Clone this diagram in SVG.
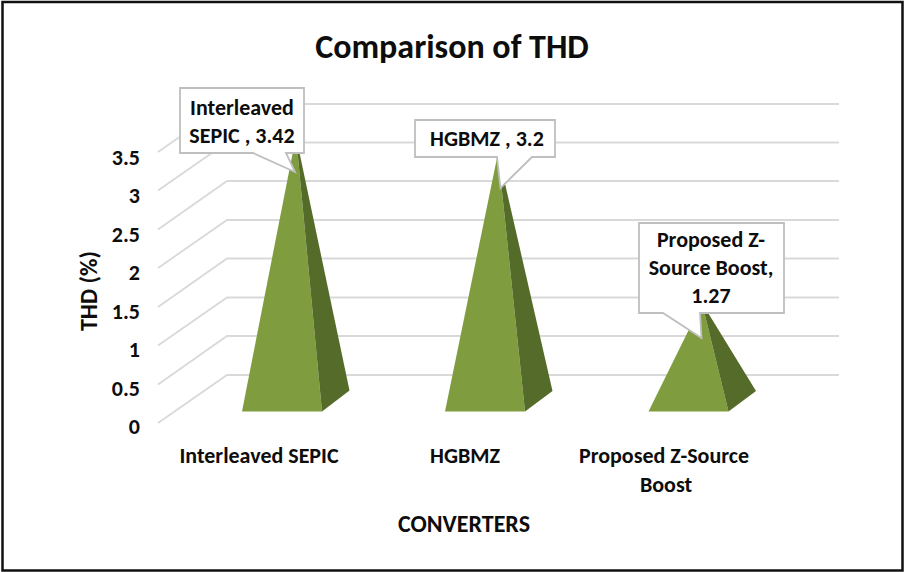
<svg xmlns="http://www.w3.org/2000/svg" width="904" height="572" viewBox="0 0 904 572">
  <style>
    text { font-family: Carlito, Lato, "Liberation Sans", sans-serif; font-weight: bold; fill: #0d0d0d; }
    .title { font-size: 34px; text-anchor: middle; }
    .tick { font-size: 22px; text-anchor: end; }
    .cat { font-size: 22px; text-anchor: middle; }
    .axis { font-size: 24px; text-anchor: middle; }
    .lbl { font-size: 22px; text-anchor: middle; }
    .grid { stroke: #d9d9d9; stroke-width: 1.8; fill: none; }
    .front { fill: #7f9d3f; }
    .side { fill: #546b29; }
    .callout { fill: #ffffff; stroke: #bfbfbf; stroke-width: 1.8; }
  </style>

  <!-- chart frame -->
  <rect x="2.5" y="2" width="900" height="568.5" fill="#ffffff" stroke="#111111" stroke-width="2.5"/>

  <text class="title" x="452" y="58">Comparison of THD</text>

  <!-- back wall and floor gridlines (value 0 to 3.5 in steps of 0.5) -->
  <g id="gridlines">
    <polyline class="grid" points="158,423 227,375 839,375"/>
    <polyline class="grid" points="158,384.5 227,336 839,336"/>
    <polyline class="grid" points="158,345.5 227,297.5 839,297.5"/>
    <polyline class="grid" points="158,307 227,258.5 839,258.5"/>
    <polyline class="grid" points="158,268 227,220 839,220"/>
    <polyline class="grid" points="158,229.5 227,181 839,181"/>
    <polyline class="grid" points="158,190.5 227,142.5 839,142.5"/>
    <polyline class="grid" points="158,152 227,104 839,104"/>
  </g>

  <!-- value axis -->
  <g id="value-axis">
    <text class="tick" x="140" y="434">0</text>
    <text class="tick" x="140" y="395.5">0.5</text>
    <text class="tick" x="140" y="357">1</text>
    <text class="tick" x="140" y="318.5">1.5</text>
    <text class="tick" x="140" y="280">2</text>
    <text class="tick" x="140" y="241.5">2.5</text>
    <text class="tick" x="140" y="203">3</text>
    <text class="tick" x="140" y="164.5">3.5</text>
    <text class="axis" transform="translate(97,291) rotate(-90)">THD (%)</text>
  </g>

  <!-- pyramids -->
  <g id="bar-interleaved-sepic">
    <polygon class="front" points="296,136 242,411.5 322,411.5"/>
    <polygon class="side" points="296,136 322,411.5 349.5,390.5"/>
  </g>
  <g id="bar-hgbmz">
    <polygon class="front" points="498,153 445,411.5 525,411.5"/>
    <polygon class="side" points="498,153 525,411.5 552.5,391"/>
  </g>
  <g id="bar-zsource">
    <polygon class="front" points="702,303 648.5,411.5 728.5,411.5"/>
    <polygon class="side" points="702,303 728.5,411.5 756,391"/>
  </g>

  <!-- data label callouts -->
  <g id="label-interleaved-sepic">
    <path class="callout" d="M180,88 H304 V153 H286 L295,172 L253,153 H180 Z"/>
    <text class="lbl" x="242" y="115">Interleaved</text>
    <text class="lbl" x="242" y="143">SEPIC , 3.42</text>
  </g>
  <g id="label-hgbmz">
    <path class="callout" d="M415,120 H555 V157 H532 L500.5,188 L497,157 H415 Z"/>
    <text class="lbl" x="487" y="146">HGBMZ , 3.2</text>
  </g>
  <g id="label-zsource">
    <path class="callout" d="M639,223 H784 V313 H700 L701.5,338 L663,313 H639 Z"/>
    <text class="lbl" x="711" y="246.5">Proposed Z-</text>
    <text class="lbl" x="711" y="275">Source Boost,</text>
    <text class="lbl" x="711" y="303">1.27</text>
  </g>

  <!-- category axis -->
  <g id="category-axis">
    <text class="cat" x="259" y="463">Interleaved SEPIC</text>
    <text class="cat" x="465" y="463">HGBMZ</text>
    <text class="cat" x="664" y="463">Proposed Z-Source</text>
    <text class="cat" x="666" y="492">Boost</text>
    <text class="axis" x="464" y="532">CONVERTERS</text>
  </g>
</svg>
